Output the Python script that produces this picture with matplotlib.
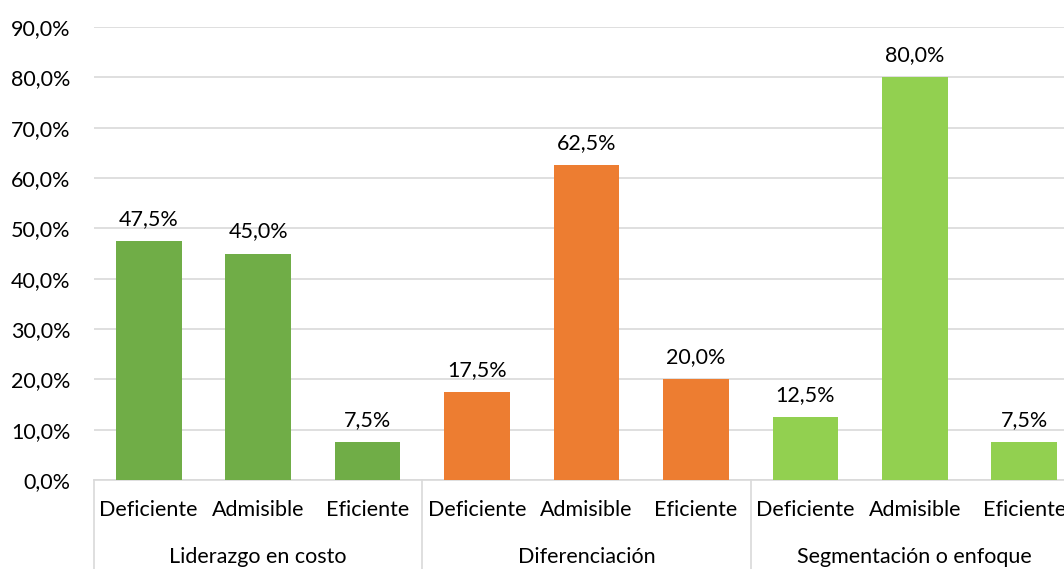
import matplotlib.pyplot as plt
import matplotlib.transforms as mtransforms

groups = ["Liderazgo en costo", "Diferenciación", "Segmentación o enfoque"]
levels = ["Deficiente", "Admisible", "Eficiente"]
values = [
    [47.5, 45.0, 7.5],
    [17.5, 62.5, 20.0],
    [12.5, 80.0, 7.5],
]
colors = ["#70AD47", "#ED7D31", "#92D050"]

plt.rcParams['font.family'] = ['Lato', 'DejaVu Sans']

fig = plt.figure(figsize=(10.64, 5.69), dpi=100)
ax = fig.add_axes([94 / 1064, 89 / 569, 985 / 1064, 453 / 569])

fs = 15.5
x = 0
for g, (grp, vals) in enumerate(zip(groups, values)):
    for lvl, v in zip(levels, vals):
        ax.bar(x, v, width=0.6, color=colors[g], zorder=3)
        ax.text(x, v + 2.4, f"{v:.1f}%".replace(".", ","), ha='center', va='bottom',
                fontsize=fs, color='#000000')
        x += 1

ax.set_xlim(-0.5, 8.5)
ax.set_ylim(0, 90)
ax.set_yticks(range(0, 91, 10))
ax.set_yticklabels([f"{t:.1f}%".replace(".", ",") for t in range(0, 91, 10)], fontsize=fs)
ax.tick_params(axis='y', length=0, pad=17)
ax.set_xticks([])
ax.grid(axis='y', color='#D9D9D9', linewidth=1.2, zorder=0)
for s in ['top', 'right', 'left']:
    ax.spines[s].set_visible(False)
ax.spines['bottom'].set_color('#D9D9D9')
ax.spines['bottom'].set_linewidth(1.2)

# two-level category axis
trans = mtransforms.blended_transform_factory(ax.transData, ax.transAxes)
px = 1 / 453
for i in range(9):
    ax.text(i, -30 * px, levels[i % 3], transform=trans, ha='center', va='center', fontsize=fs)
for g, grp in enumerate(groups):
    ax.text(g * 3 + 1, -77 * px, grp, transform=trans, ha='center', va='center', fontsize=fs)
for b in [-0.5, 2.5, 5.5, 8.5]:
    ax.plot([b, b], [0, -0.25], transform=trans, color='#D9D9D9', linewidth=1.2, clip_on=False)

fig.savefig("out.png", dpi=100)
